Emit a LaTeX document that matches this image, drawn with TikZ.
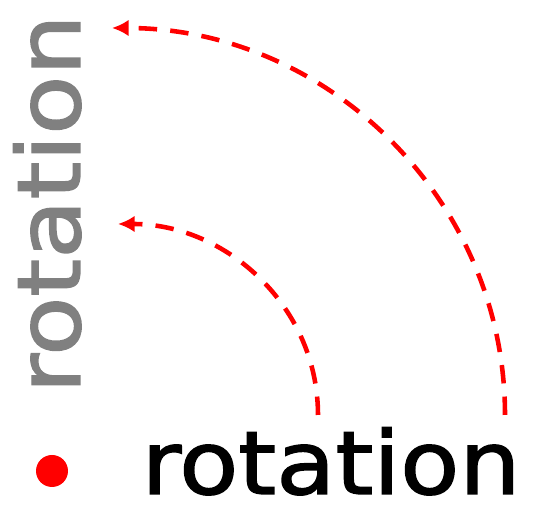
\documentclass[tikz,border=0pt]{standalone}
\usepackage{fontspec}
\newfontfamily\wordfont{DejaVu Sans}[FakeBold=1.6]
\usetikzlibrary{arrows.meta}

\tikzset{
    word/.style={inner sep=0pt, anchor=base, text depth=0pt,
        font=\wordfont\fontsize{50}{50}\selectfont, xscale=1.1},
    turnarrow/.style={red, line width=2.6pt, dash pattern=on 10.5pt off 7.5pt,
        -{Latex[length=9.5pt, width=9.5pt]}},
}

\begin{document}
\begin{tikzpicture}[x=0.02cm, y=0.02cm]

\useasboundingbox (0,0) rectangle (539,506);

% === Pivot dot ===
\node[circle, fill=red, inner sep=0pt, minimum size=0.64cm] (pivot) at (52,35) {};

% === Words ===
\node[word, text=black] (flat) at (331,12) {rotation};
\node[rotate=90, word, text=gray] (turned) at (80,302) {rotation};

% === Arc end points ===
\coordinate (inStart) at (318,91);
\coordinate (inEnd) at (118,282);
\coordinate (outStart) at (505,91);
\coordinate (outEnd) at (112,478);

% === Dashed rotation arrows ===
\draw[turnarrow] (inStart) to[out=90, in=0] (inEnd);
\draw[turnarrow] (outStart) to[out=90, in=0] (outEnd);

\end{tikzpicture}
\end{document}
